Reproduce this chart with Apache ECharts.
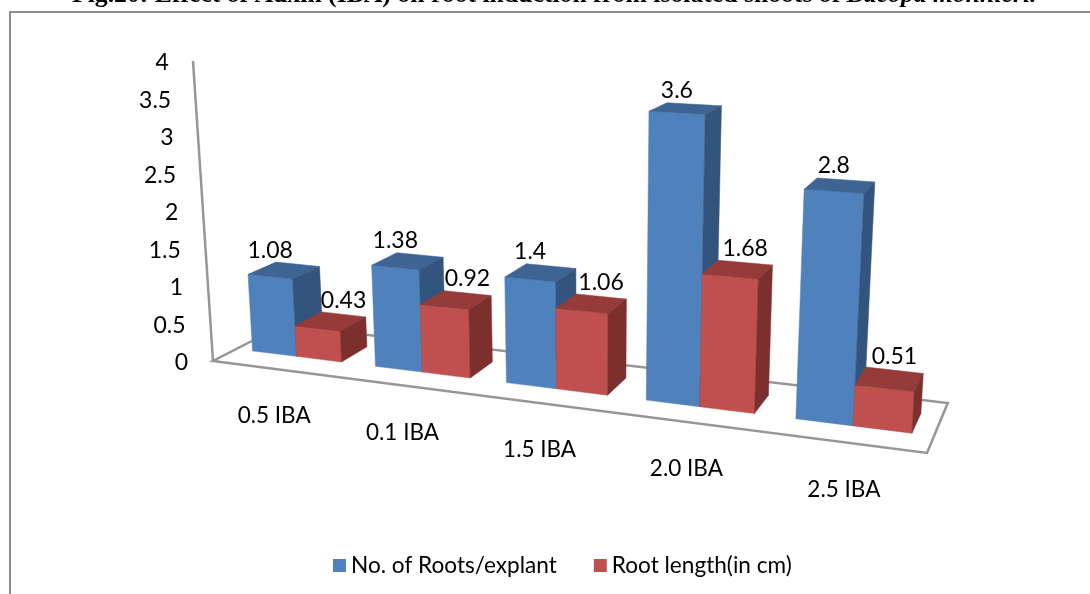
<!DOCTYPE html>
<html>
<head>
<meta charset="utf-8">
<style>
  html, body { margin: 0; padding: 0; background: #fff; }
  #chart { width: 1090px; height: 594px; }
</style>
<script src="https://cdn.jsdelivr.net/npm/echarts@6/dist/echarts.min.js"></script>
</head>
<body>
<div id="chart"></div>
<script>
const categories = ['0.5 IBA', '0.1 IBA', '1.5 IBA', '2.0 IBA', '2.5 IBA']
const rootsPerExplant = [1.08, 1.38, 1.4, 3.6, 2.8]
const rootLength = [0.43, 0.92, 1.06, 1.68, 0.51]
const yTicks = ['0', '0.5', '1', '1.5', '2', '2.5', '3', '3.5', '4']

const FONT = 'Lato, "Open Sans", sans-serif'
const GRID = { left: 192, top: 63, width: 700, height: 300 }
const BAR_W = 0.365      // one bar, as a share of the category band
const Z_FRONT = 0.32, Z_BACK = 0.72

// perspective box: origin and the far end of each axis, with their weights
const O = [213, 361], EX = [927, 453], EY = [193, 61], EZ = [283, 325]
const WX = 0.843, WY = 0.95, WZ = 1.079

// x, y, z are shares of the plot box (0..1)
function project(x, y, z) {
  const w = 1 + x * (WX - 1) + y * (WY - 1) + z * (WZ - 1)
  return [0, 1].map(k =>
    (O[k] + x * (WX * EX[k] - O[k]) + y * (WY * EY[k] - O[k]) + z * (WZ * EZ[k] - O[k])) / w
  )
}

function poly(points, fill) {
  return { type: 'polygon', shape: { points }, style: { fill, stroke: fill, lineWidth: 0.5 } }
}

function boxSeries(name, values, colors, from, to, labelFrontX) {
  return {
    name,
    type: 'custom',
    coordinateSystem: 'cartesian2d',
    itemStyle: { color: colors.front },
    encode: { x: 0, y: 1 },
    data: values.map((v, i) => [i, v]),
    clip: false,
    z: 3,
    renderItem(params, api) {
      const g = params.coordSys
      const at = api.coord([api.value(0), api.value(1)])
      const band = api.size([1, 0])[0]
      const x0 = (at[0] + from * band - g.x) / g.width
      const x1 = (at[0] + to * band - g.x) / g.width
      const y = (g.y + g.height - at[1]) / g.height
      const xm = (x0 + x1) / 2

      const backTop = project(xm, y, Z_BACK)
      const labelX = labelFrontX ? project(xm, y, Z_FRONT)[0] : backTop[0]
      return {
        type: 'group',
        children: [
          poly([project(x0, 0, Z_FRONT), project(x1, 0, Z_FRONT), project(x1, y, Z_FRONT), project(x0, y, Z_FRONT)], colors.front),
          poly([project(x0, y, Z_FRONT), project(x1, y, Z_FRONT), project(x1, y, Z_BACK), project(x0, y, Z_BACK)], colors.top),
          poly([project(x1, 0, Z_FRONT), project(x1, 0, Z_BACK), project(x1, y, Z_BACK), project(x1, y, Z_FRONT)], colors.side),
          {
            type: 'text',
            style: {
              text: String(api.value(1)),
              x: labelX,
              y: backTop[1] - 14,
              align: 'center',
              verticalAlign: 'middle',
              font: '23px ' + FONT,
              fill: '#000'
            }
          }
        ]
      }
    }
  }
}

const chart = echarts.init(document.getElementById('chart'))

chart.setOption({
  animation: false,
  backgroundColor: '#fff',
  title: {
    left: 72,
    top: -18,
    padding: 0,
    text: '{b|Fig.20: Effect of Auxin (IBA) on root induction from isolated shoots of }{i|Bacopa monnieri.}',
    textStyle: {
      rich: {
        b: { fontFamily: '"Liberation Serif"', fontSize: 25.7, fontWeight: 'bold', color: '#000' },
        i: { fontFamily: '"Liberation Serif"', fontSize: 25.7, fontWeight: 'bold', fontStyle: 'italic', color: '#000' }
      }
    }
  },
  legend: {
    left: 333,
    top: 554,
    padding: 0,
    itemWidth: 13,
    itemHeight: 13,
    itemGap: 37,
    icon: 'rect',
    textStyle: { fontFamily: FONT, fontSize: 22.6, color: '#000' }
  },
  grid: GRID,
  xAxis: { type: 'category', data: categories, show: false },
  yAxis: {
    type: 'value',
    min: 0,
    max: 4,
    interval: 0.5,
    axisLine: { show: false },
    axisTick: { show: false },
    splitLine: { show: false },
    axisLabel: {
      margin: 4,
      formatter: (v, i) => `{t${i}|${yTicks[i]}}`,
      // labels step left as they go up, along the slanted axis
      rich: Object.fromEntries(yTicks.map((t, i) => ['t' + i, {
        fontFamily: FONT, fontSize: 23, color: '#000', padding: [0, i * 2.4, 0, 0]
      }]))
    }
  },
  graphic: [{
    type: 'polyline',
    silent: true,
    shape: { points: [[10, 594], [10, 12], [1090, 12]] },
    style: { fill: 'none', stroke: '#8c8c8c', lineWidth: 2 }
  }],
  series: [
    {
      type: 'custom',
      coordinateSystem: 'cartesian2d',
      encode: { x: 0, y: 1 },
      data: [[0, 0]],
      clip: false,
      z: 1,
      renderItem() {
        const line = { stroke: '#969696', lineWidth: 2.5, fill: 'none' }
        return {
          type: 'group',
          children: [
            { type: 'polygon', shape: { points: [project(0, 0, 0), project(1, 0, 0), project(1, 0, 1), project(0, 0, 1)] }, style: line },
            { type: 'line', shape: { x1: project(0, 0, 0)[0], y1: project(0, 0, 0)[1], x2: project(0, 1, 0)[0], y2: project(0, 1, 0)[1] }, style: line }
          ]
        }
      }
    },
    {
      type: 'custom',
      coordinateSystem: 'cartesian2d',
      encode: { x: 0, y: 1 },
      data: categories.map((c, i) => [i, 0]),
      clip: false,
      z: 2,
      renderItem(params, api) {
        const g = params.coordSys
        const at = api.coord([api.value(0), 0])
        const p = project((at[0] - g.x) / g.width, 0, 0)
        return {
          type: 'text',
          style: {
            text: categories[api.value(0)],
            x: p[0],
            y: p[1] + 47,
            align: 'center',
            verticalAlign: 'middle',
            font: '22.5px ' + FONT,
            fill: '#000'
          }
        }
      }
    },
    boxSeries('No. of Roots/explant', rootsPerExplant, { front: '#4f81bd', top: '#3e6493', side: '#33557d' }, -BAR_W, 0, true),
    boxSeries('Root length(in cm)', rootLength, { front: '#c0504d', top: '#953b39', side: '#7b302e' }, 0, BAR_W, false)
  ]
})
</script>
</body>
</html>
